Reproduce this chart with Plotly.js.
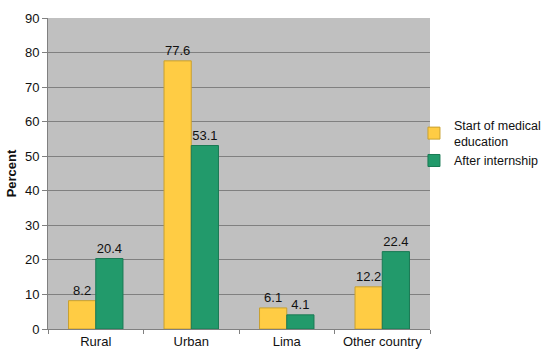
<!DOCTYPE html>
<html><head><meta charset="utf-8">
<script src="https://cdn.plot.ly/plotly-3.0.1.min.js"></script>
<style>html,body{margin:0;padding:0;background:#fff}</style>
</head><body>
<div id="chart" style="width:549px;height:364px"></div>
<script>
const categories = ["Rural", "Urban", "Lima", "Other country"];
const startValues = [8.2, 77.6, 6.1, 12.2];
const afterValues = [20.4, 53.1, 4.1, 22.4];
const seriesNames = ["Start of medical<br>education", "After internship"];
const yTicks = [0, 10, 20, 30, 40, 50, 60, 70, 80, 90];

const fontFam = "Liberation Sans, Arial, sans-serif";
const traces = [
  {type: "bar", name: seriesNames[0], x: categories, y: startValues,
   text: startValues.map(v => v.toFixed(1)), textposition: "outside", cliponaxis: false,
   textfont: {family: fontFam, size: 13, color: "#111"},
   marker: {color: "#ffcc44", line: {color: "#c8a030", width: 1}}},
  {type: "bar", name: seriesNames[1], x: categories, y: afterValues,
   text: afterValues.map(v => v.toFixed(1)), textposition: "outside", cliponaxis: false,
   textfont: {family: fontFam, size: 13, color: "#111"},
   marker: {color: "#229a6b", line: {color: "#1a7a54", width: 1}}}
];
const layout = {
  width: 549, height: 364,
  margin: {l: 48, r: 119, t: 18, b: 35, autoexpand: false},
  paper_bgcolor: "#ffffff", plot_bgcolor: "#c0c0c0",
  font: {family: fontFam, size: 13, color: "#111"},
  barmode: "group", bargap: 0.43, bargroupgap: 0,
  showlegend: true,
  legend: {x: 0.958, y: 0.703, xanchor: "left", yanchor: "top",
           font: {family: fontFam, size: 12.5, color: "#111"},
           itemwidth: 30, tracegroupgap: 4, bgcolor: "rgba(0,0,0,0)"},
  xaxis: {type: "category", showgrid: false, showline: true, linecolor: "#808080", linewidth: 1,
          ticks: "outside", ticklen: 4, tickcolor: "#808080", tickson: "boundaries", tickangle: 0,
          tickfont: {family: fontFam, size: 13, color: "#111"}},
  yaxis: {range: [0, 90], tickvals: yTicks, showgrid: true, gridcolor: "#808080", gridwidth: 1,
          showline: true, linecolor: "#808080", linewidth: 1, zeroline: false,
          ticks: "outside", ticklen: 5, tickcolor: "#808080",
          tickfont: {family: fontFam, size: 13, color: "#111"},
          title: {text: "<b>Percent</b>", standoff: 5, font: {family: fontFam, size: 13, color: "#111"}}}
};
Plotly.newPlot("chart", traces, layout, {displayModeBar: false, staticPlot: true});
</script>
</body></html>
